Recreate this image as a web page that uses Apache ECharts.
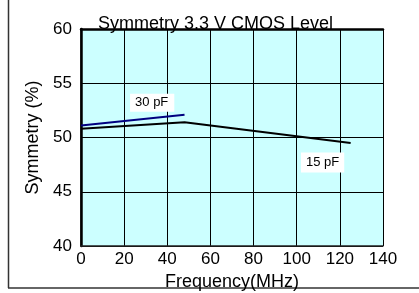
<!DOCTYPE html>
<html>
<head>
<meta charset="utf-8">
<script src="https://cdn.jsdelivr.net/npm/echarts@6/dist/echarts.min.js"></script>
<style>
  html, body { margin: 0; padding: 0; background: #fff; }
  #chart { width: 419px; height: 293px; }
</style>
</head>
<body>
<div id="chart"></div>
<script>
// data
const freq30 = [0, 48]
const sym30 = [51.1, 52.1]
const freq15 = [0, 48, 125]
const sym15 = [50.8, 51.4, 49.5]
const xTicks = [0, 20, 40, 60, 80, 100, 120, 140]
const yTicks = [40, 45, 50, 55, 60]

const font = "'Liberation Sans', Arial, sans-serif"

const chart = echarts.init(document.getElementById("chart"))
const options = {
  animation: false,
  backgroundColor: "#fff",
  title: {
    text: "Symmetry 3.3 V CMOS Level",
    left: 93,
    top: 10,
    textStyle: { fontFamily: font, fontSize: 18, fontWeight: "normal", color: "#000" }
  },
  grid: {
    left: 81,
    right: 36,
    top: 29,
    bottom: 47,
    outerBoundsMode: "none",
    containLabel: false,
    show: true,
    backgroundColor: "#ccffff",
    borderWidth: 0
  },
  xAxis: [
    {
      type: "value",
      min: xTicks[0],
      max: xTicks[xTicks.length - 1],
      interval: 20,
      name: "Frequency(MHz)",
      nameLocation: "middle",
      nameGap: 26,
      nameTextStyle: { fontFamily: font, fontSize: 18, color: "#000" },
      axisLine: { lineStyle: { color: "#222", width: 1.5 } },
      axisTick: { show: false },
      axisLabel: { fontFamily: font, fontSize: 17, color: "#000", margin: 5 },
      splitLine: { show: true, lineStyle: { color: "#000", width: 1 } }
    },
    {
      type: "value",
      position: "top",
      min: xTicks[0],
      max: xTicks[xTicks.length - 1],
      axisLine: { show: true, lineStyle: { color: "#000", width: 2.5 } },
      axisTick: { show: false },
      axisLabel: { show: false },
      splitLine: { show: false }
    }
  ],
  yAxis: [
    {
      type: "value",
      min: yTicks[0],
      max: yTicks[yTicks.length - 1],
      interval: 5,
      name: "Symmetry (%)",
      nameLocation: "middle",
      nameGap: 31,
      nameTextStyle: { fontFamily: font, fontSize: 18, color: "#000" },
      axisLine: { show: true, lineStyle: { color: "#222", width: 1.5 } },
      axisTick: { show: false },
      axisLabel: { fontFamily: font, fontSize: 17, color: "#000", margin: 9 },
      splitLine: { show: true, lineStyle: { color: "#000", width: 1 } }
    },
    {
      type: "value",
      position: "right",
      min: yTicks[0],
      max: yTicks[yTicks.length - 1],
      axisLine: { show: true, lineStyle: { color: "#000", width: 2.5 } },
      axisTick: { show: false },
      axisLabel: { show: false },
      splitLine: { show: false }
    }
  ],
  series: [
    {
      name: "30 pF",
      type: "line",
      showSymbol: false,
      data: freq30.map((f, i) => [f, sym30[i]]),
      lineStyle: { color: "#000080", width: 2 },
      markPoint: {
        symbol: "rect",
        symbolSize: 0,
        data: [{ coord: [33, 53.2] }],
        label: {
          show: true,
          position: "inside",
          formatter: "30 pF",
          fontFamily: font,
          fontSize: 13,
          color: "#000",
          backgroundColor: "#fff",
          padding: [3, 6, 2, 5]
        }
      }
    },
    {
      name: "15 pF",
      type: "line",
      showSymbol: false,
      data: freq15.map((f, i) => [f, sym15[i]]),
      lineStyle: { color: "#000", width: 2 },
      markPoint: {
        symbol: "rect",
        symbolSize: 0,
        data: [{ coord: [112, 47.7] }],
        label: {
          show: true,
          position: "inside",
          formatter: "15 pF",
          fontFamily: font,
          fontSize: 13,
          color: "#000",
          backgroundColor: "#fff",
          padding: [4, 5, 3, 5]
        }
      }
    }
  ],
  graphic: [
    // outer frame edges of the original figure
    { type: "line", shape: { x1: 8.5, y1: 0, x2: 8.5, y2: 288 }, style: { stroke: "#333", lineWidth: 1.5 } },
    { type: "line", shape: { x1: 8, y1: 288, x2: 419, y2: 288 }, style: { stroke: "#333", lineWidth: 1.5 } }
  ]
}
chart.setOption(options)
</script>
</body>
</html>
